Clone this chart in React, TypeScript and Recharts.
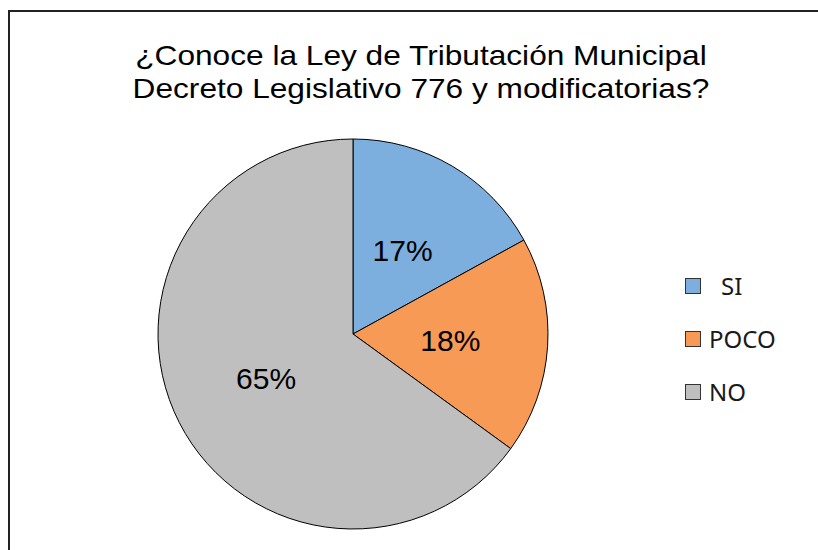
import React from 'react';
import { PieChart, Pie, Cell, Legend } from 'recharts';

const categories = ['SI', 'POCO', 'NO'];
const values = [17, 18, 65];
const colors = ['#7CAEDE', '#F79A55', '#BFBFBF'];
const titleLines = ['¿Conoce la Ley de Tributación Municipal', 'Decreto Legislativo 776 y modificatorias?'];

const data = categories.map((name, i) => ({ name, value: values[i] }));

const RAD = Math.PI / 180;

const renderLabel = (props: any) => {
  const { cx, cy, midAngle, outerRadius, value } = props;
  const r = outerRadius * 0.5;
  const x = cx + r * Math.cos(-midAngle * RAD);
  const y = cy + r * Math.sin(-midAngle * RAD);
  return (
    <text
      x={x}
      y={y}
      textAnchor="middle"
      dominantBaseline="central"
      fill="#000"
      fontFamily="'Liberation Sans', Arial, sans-serif"
      fontSize={30}
    >
      {`${value}%`}
    </text>
  );
};

const renderLegend = () => (
  <div style={{ fontFamily: "'Noto Sans', sans-serif", fontSize: 24, color: '#1a1a1a' }}>
    {data.map((d, i) => (
      <div key={d.name} style={{ display: 'flex', alignItems: 'center', height: 53 }}>
        <span
          style={{
            display: 'inline-block',
            width: 14,
            height: 14,
            background: colors[i],
            border: '1px solid #333',
            marginRight: i === 0 ? 20 : 8,
          }}
        />
        <span>{d.name}</span>
      </div>
    ))}
  </div>
);

export default function App() {
  return (
    <div style={{ position: 'fixed', left: 0, top: 0, width: 818, height: 550, overflow: 'hidden', background: '#fff' }}>
      <div style={{ position: 'absolute', left: 8, top: 10, width: 810, height: 2, background: '#222' }} />
      <div style={{ position: 'absolute', left: 8, top: 10, width: 2, height: 540, background: '#222' }} />
      {titleLines.map((t, i) => (
        <div
          key={i}
          style={{
            position: 'absolute',
            left: 0,
            width: 842,
            top: 35 + i * 33,
            lineHeight: '40px',
            textAlign: 'center',
            fontFamily: "'Liberation Sans', Arial, sans-serif",
            fontSize: 28.5,
            color: '#000',
            whiteSpace: 'nowrap',
            transform: 'scaleX(1.11)',
            transformOrigin: '421px 0',
          }}
        >
          {t}
        </div>
      ))}
      <div style={{ position: 'absolute', left: 0, top: 0 }}>
        <PieChart width={818} height={550}>
          <Pie
            data={data}
            dataKey="value"
            nameKey="name"
            cx={348}
            cy={329}
            outerRadius={195}
            startAngle={90}
            endAngle={-270}
            stroke="#000"
            strokeWidth={1}
            label={renderLabel}
            labelLine={false}
            isAnimationActive={false}
          >
            {data.map((d, i) => (
              <Cell key={d.name} fill={colors[i]} />
            ))}
          </Pie>
          <Legend
            content={renderLegend}
            wrapperStyle={{ position: 'absolute', left: 685, top: 259, width: 120 }}
          />
        </PieChart>
      </div>
      <div style={{ position: 'absolute', left: 795, top: 13, width: 23, height: 537, background: '#fff', zIndex: 10 }} />
    </div>
  );
}
